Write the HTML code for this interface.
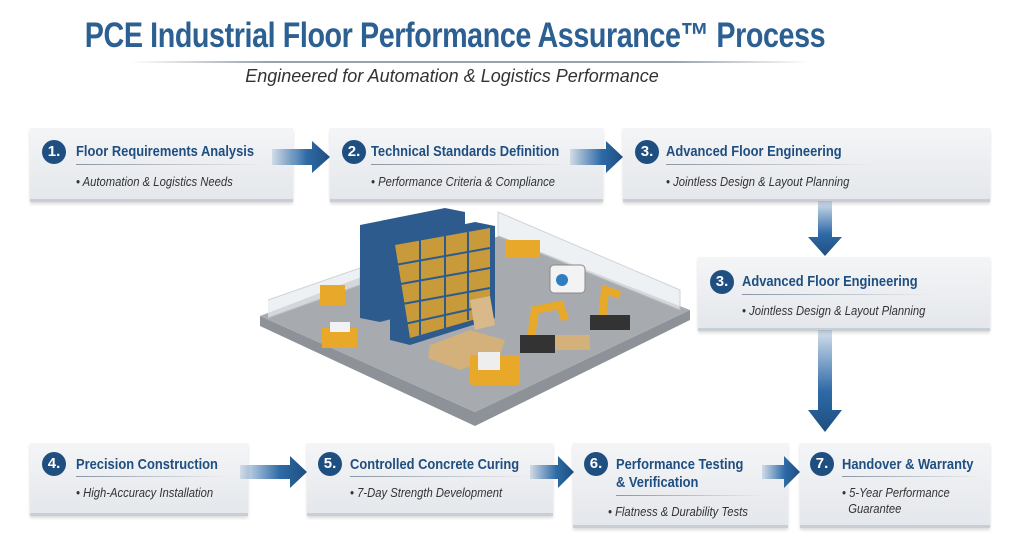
<!DOCTYPE html>
<html><head><meta charset="utf-8"><style>
body{margin:0;width:1024px;height:541px;background:#fff;overflow:hidden;position:relative;font-family:"Liberation Sans",sans-serif}
.t{position:absolute;left:0;width:910px;text-align:center;top:16px;font-size:35px;font-weight:bold;color:#2c5f92;letter-spacing:-0.5px;transform:scaleX(0.82);transform-origin:455px 0;white-space:nowrap}
.hr{position:absolute;left:130px;top:61px;width:680px;height:2px;background:linear-gradient(90deg,transparent,#9aa3ad 20%,#9aa3ad 80%,transparent)}
.sub{position:absolute;left:0;width:904px;text-align:center;top:66px;font-size:18px;font-style:italic;color:#333}
.b{position:absolute;background:linear-gradient(#f4f5f7,#e4e7eb);border-bottom:3px solid #c9ced4;box-shadow:0 2px 3px rgba(0,0,0,.15)}
.n{position:absolute;width:24px;height:24px;border-radius:50%;background:#1f4e80;color:#fff;font-weight:bold;font-size:15px;text-align:center;line-height:24px}
.h{position:absolute;font-weight:bold;font-size:15px;color:#1f4e80;white-space:nowrap;line-height:18px;transform:scaleX(0.86);transform-origin:0 0}
.u{position:absolute;height:1px;background:linear-gradient(90deg,#8a96a3,transparent)}
.s{position:absolute;font-style:italic;font-size:12.5px;color:#333;white-space:nowrap;line-height:16px;transform:scaleX(0.9);transform-origin:0 0}
</style></head><body>
<div class="t">PCE Industrial Floor Performance Assurance™ Process</div>
<div class="hr"></div>
<div class="sub">Engineered for Automation &amp; Logistics Performance</div>

<div class="b" style="left:30px;top:128px;width:263px;height:71px"></div>
<div class="n" style="left:42px;top:140px">1.</div><div class="h" style="left:76px;top:143px">Floor Requirements Analysis</div><div class="u" style="left:76px;top:164px;width:190px"></div><div class="s" style="left:76px;top:174px">• Automation &amp; Logistics Needs</div>

<div class="b" style="left:330px;top:128px;width:273px;height:71px"></div>
<div class="n" style="left:342px;top:140px">2.</div><div class="h" style="left:371px;top:143px">Technical Standards Definition</div><div class="u" style="left:371px;top:164px;width:200px"></div><div class="s" style="left:371px;top:174px">• Performance Criteria &amp; Compliance</div>

<div class="b" style="left:623px;top:128px;width:367px;height:71px"></div>
<div class="n" style="left:635px;top:140px">3.</div><div class="h" style="left:666px;top:143px">Advanced Floor Engineering</div><div class="u" style="left:666px;top:164px;width:210px"></div><div class="s" style="left:666px;top:174px">• Jointless Design &amp; Layout Planning</div>

<div class="b" style="left:698px;top:257px;width:292px;height:71px"></div>
<div class="n" style="left:710px;top:270px">3.</div><div class="h" style="left:742px;top:273px">Advanced Floor Engineering</div><div class="u" style="left:742px;top:294px;width:190px"></div><div class="s" style="left:742px;top:303px">• Jointless Design &amp; Layout Planning</div>

<div class="b" style="left:30px;top:443px;width:218px;height:70px"></div>
<div class="n" style="left:42px;top:452px">4.</div><div class="h" style="left:76px;top:456px">Precision Construction</div><div class="u" style="left:76px;top:476px;width:150px"></div><div class="s" style="left:76px;top:485px">• High-Accuracy Installation</div>

<div class="b" style="left:307px;top:443px;width:246px;height:70px"></div>
<div class="n" style="left:318px;top:452px">5.</div><div class="h" style="left:350px;top:456px">Controlled Concrete Curing</div><div class="u" style="left:350px;top:476px;width:180px"></div><div class="s" style="left:350px;top:485px">• 7-Day Strength Development</div>

<div class="b" style="left:573px;top:443px;width:215px;height:82px"></div>
<div class="n" style="left:584px;top:452px">6.</div><div class="h" style="left:616px;top:456px">Performance Testing<br>&amp; Verification</div><div class="u" style="left:616px;top:495px;width:150px"></div><div class="s" style="left:608px;top:504px">• Flatness &amp; Durability Tests</div>

<div class="b" style="left:800px;top:443px;width:190px;height:82px"></div>
<div class="n" style="left:810px;top:452px">7.</div><div class="h" style="left:842px;top:456px">Handover &amp; Warranty</div><div class="u" style="left:842px;top:476px;width:140px"></div><div class="s" style="left:842px;top:485px">• 5-Year Performance<br>&nbsp;&nbsp;Guarantee</div>

<svg width="1024" height="541" style="position:absolute;left:0;top:0">
<defs>
<linearGradient id="ah" x1="0" x2="1"><stop offset="0" stop-color="#2e6aa6" stop-opacity="0.15"/><stop offset="0.6" stop-color="#2e6aa6"/><stop offset="1" stop-color="#1f4e80"/></linearGradient>
<linearGradient id="av" x1="0" x2="0" y1="0" y2="1"><stop offset="0" stop-color="#2e6aa6" stop-opacity="0.2"/><stop offset="0.6" stop-color="#2e6aa6"/><stop offset="1" stop-color="#1f4e80"/></linearGradient>
</defs>
<g fill="url(#ah)">
<polygon points="272,149 312,149 312,141 330,157 312,173 312,165 272,165"/>
<polygon points="570,149 606,149 606,141 623,157 606,173 606,165 570,165"/>
<polygon points="240,465 290,465 290,456 307,472 290,488 290,479 240,479"/>
<polygon points="530,465 558,465 558,456 574,472 558,488 558,479 530,479"/>
<polygon points="762,465 784,465 784,456 800,472 784,488 784,479 762,479"/>
</g>
<g fill="url(#av)">
<polygon points="818,201 832,201 832,237 842,237 825,256 808,237 818,237"/>
<polygon points="818,330 832,330 832,410 842,410 825,432 808,410 818,410"/>
</g>
<polygon points="260,316 475,412 690,310 690,320 475,426 260,326" fill="#8d9298"/>
<polygon points="260,316 400,262 500,236 690,310 475,412" fill="#a7abb0"/>
<polyline points="268,300 360,268 360,285 268,318" fill="#e8ecef" opacity="0.7" stroke="#bcc3c9"/>
<polygon points="498,212 680,290 680,310 498,236" fill="#e8ecef" opacity="0.7" stroke="#bcc3c9"/>
<polygon points="360,225 445,208 465,212 465,300 380,322 360,318" fill="#2d5b8e"/>
<polygon points="390,240 475,222 495,226 495,318 410,345 390,340" fill="#2d5b8e"/>
<polygon points="395,245 490,228 490,315 410,338" fill="#c89a3a"/>
<g stroke="#2d5b8e" stroke-width="2"><line x1="395" y1="265" x2="490" y2="248"/><line x1="395" y1="285" x2="490" y2="268"/><line x1="397" y1="305" x2="490" y2="288"/><line x1="400" y1="325" x2="490" y2="305"/><line x1="420" y1="240" x2="420" y2="335"/><line x1="445" y1="236" x2="445" y2="328"/><line x1="468" y1="232" x2="468" y2="320"/></g>
<polygon points="430,345 470,330 505,340 500,355 460,370 428,358" fill="#d4b07a"/>
<polygon points="470,300 490,296 495,325 475,330" fill="#d9b98a"/>
<rect x="322" y="328" width="35" height="20" fill="#e8a92a"/>
<rect x="330" y="322" width="20" height="10" fill="#f2f2f2"/>
<rect x="470" y="355" width="50" height="30" rx="3" fill="#e8a92a"/>
<rect x="478" y="352" width="22" height="18" fill="#eee"/>
<rect x="550" y="265" width="35" height="28" rx="4" fill="#f3f3f3" stroke="#888"/>
<circle cx="562" cy="280" r="6" fill="#2f7dc2"/>
<rect x="505" y="240" width="35" height="18" fill="#e8a92a"/>
<rect x="320" y="285" width="25" height="20" fill="#e8a92a"/>
<path d="M530,345 L535,310 L560,305 L565,320" stroke="#e8a92a" stroke-width="8" fill="none"/>
<rect x="520" y="335" width="35" height="18" fill="#333"/>
<path d="M602,320 L605,290 L620,295" stroke="#e8a92a" stroke-width="8" fill="none"/>
<rect x="590" y="315" width="40" height="15" fill="#333"/>
<rect x="555" y="335" width="35" height="15" fill="#d4b07a"/>
</svg>
</body></html>
